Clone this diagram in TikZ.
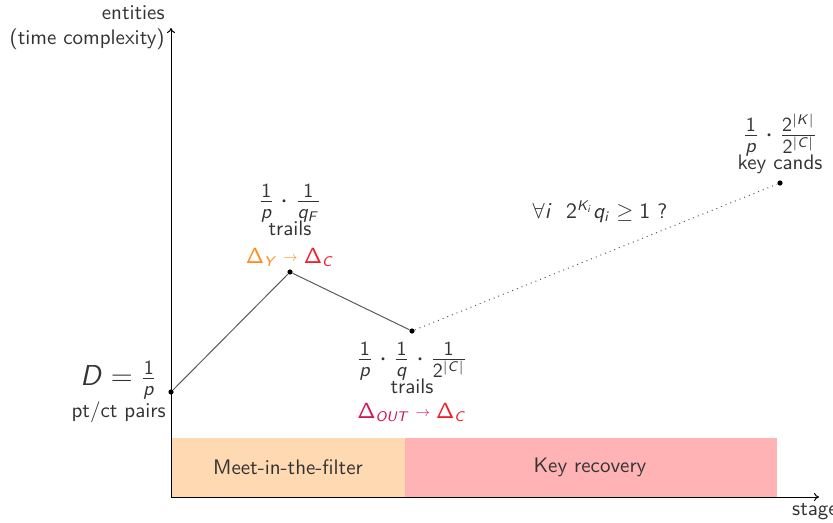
\documentclass[tikz,border=0pt]{standalone}
\usepackage{amsmath,amssymb}
\usetikzlibrary{arrows.meta}
\renewcommand{\familydefault}{\sfdefault}
% sans-serif math letters and digits
\DeclareSymbolFont{sfops}{OT1}{cmss}{m}{n}
\DeclareSymbolFont{sfit}{OT1}{cmss}{m}{sl}
\makeatletter
\@for\sfchar:=D,p,q,F,C,K,Y,O,U,T,i\do{%
  \expandafter\DeclareMathSymbol\expandafter{\sfchar}{\mathalpha}{sfit}{\expandafter`\sfchar}}
\makeatother
\DeclareMathSymbol{1}{\mathalpha}{sfops}{`1}
\DeclareMathSymbol{2}{\mathalpha}{sfops}{`2}
\DeclareMathSymbol{\Delta}{\mathalpha}{sfops}{"01}
\newcommand{\shortto}{\mathrel{\raisebox{0.9pt}{\scalebox{0.65}{$\rightarrow$}}}}
\definecolor{textgray}{RGB}{51,51,51}
\definecolor{linegray}{RGB}{90,90,90}
\definecolor{deltaorange}{RGB}{255,140,26}
\definecolor{deltared}{RGB}{240,30,40}
\definecolor{deltacrimson}{RGB}{212,20,90}
\definecolor{filterfill}{RGB}{255,217,178}
\definecolor{keyfill}{RGB}{255,179,181}

\begin{document}
\begin{tikzpicture}[x=0.5pt,y=-0.5pt,
  font=\fontsize{10.5}{12.5}\selectfont, text=textgray,
  axis/.style={-{To[length=2.5pt,width=4pt]},line width=0.5pt,black},
  costline/.style={linegray,line width=0.5pt},
  dot/.style={circle,fill=black,inner sep=0pt,minimum size=2.6pt},
  costlabel/.style={align=center,inner sep=1pt}]
  \useasboundingbox (0,0) rectangle (833,523);

  % ── Stage bars ──
  \fill[filterfill] (171,438) rectangle (405,497);
  \fill[keyfill] (405,438) rectangle (777,497);
  \node (mitf) at (288,467) {Meet-in-the-filter};
  \node (keyrec) at (590,467) {Key recovery};

  % ── Axes ──
  \coordinate (origin) at (171,497);
  \coordinate (ytip) at (171,28);
  \coordinate (xtip) at (819,497);
  \draw[axis] (origin) -- (ytip);
  \draw[axis] (origin) -- (xtip);
  \node (ylabel) [left,align=right,inner sep=3pt] at (ytip) {entities\\(time complexity)};
  \node (xlabel) [below,inner sep=3pt] at (xtip) {stages};

  % ── Cost curve ──
  \node[dot] (data) at (171,392) {};
  \node[dot] (trailsF) at (290,272) {};
  \node[dot] (trailsC) at (412,331) {};
  \node[dot] (keys) at (780,183) {};
  \draw[costline] (data) -- (trailsF) -- (trailsC);
  \draw[costline,dotted] (trailsC) -- (keys);

  % ── Labels ──
  \node[costlabel,left] (datalabel) at (data.west)
    {{\Large $D = \frac{1}{p}$}\\pt/ct pairs};
  \node[costlabel,above] (trailsFlabel) at (trailsF.north)
    {{\Large $\frac{1}{p}\cdot\frac{1}{q_F}$}\\[-2pt]trails\\[1.5pt]
     $\color{deltaorange}\Delta_Y \shortto \color{deltared}\Delta_C$};
  \node[costlabel,below,yshift=-3pt] (trailsClabel) at (trailsC.south)
    {{\Large $\frac{1}{p}\cdot\frac{1}{q}\cdot\frac{1}{2^{|C|}}$}\\[-2pt]trails\\
     $\color{deltacrimson}\Delta_{OUT} \shortto \color{deltared}\Delta_C$};
  \node[costlabel,above,yshift=2pt] (keyslabel) at (keys.north)
    {{\Large $\frac{1}{p}\cdot\frac{2^{|K|}}{2^{|C|}}$}\\[-2pt]key cands};
  \node (cond) at (600,212) {$\forall i\ \ 2^{K_i} q_i \geq 1$ ?};
\end{tikzpicture}
\end{document}
